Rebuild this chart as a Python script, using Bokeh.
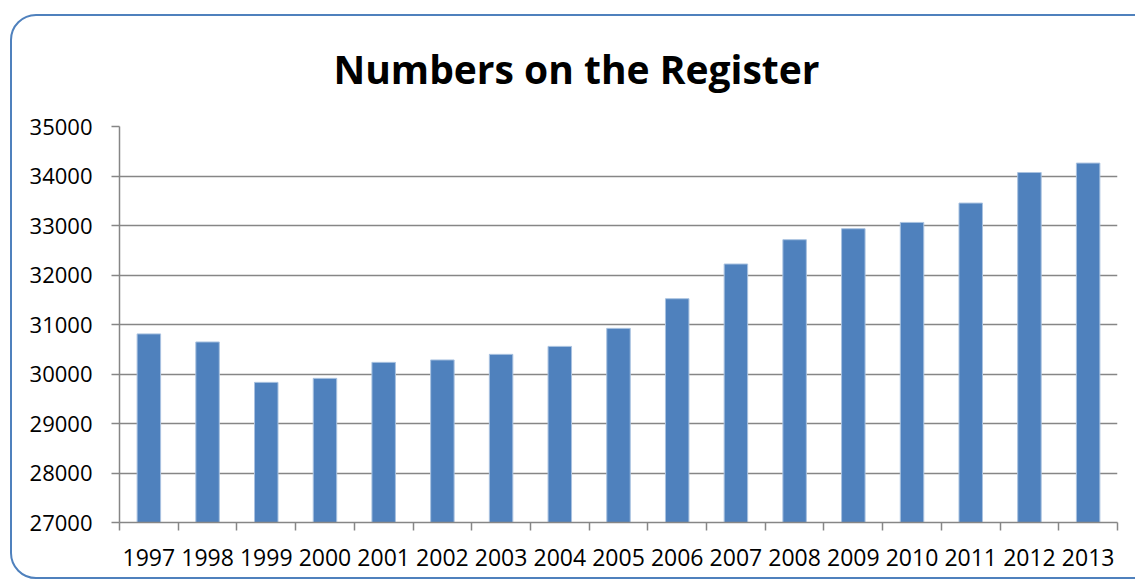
from bokeh.plotting import figure
from bokeh.models import FixedTicker, ColumnDataSource, Range1d, InlineStyleSheet
from bokeh.embed import file_html
from bokeh.resources import INLINE

years = [1997, 1998, 1999, 2000, 2001, 2002, 2003, 2004, 2005,
         2006, 2007, 2008, 2009, 2010, 2011, 2012, 2013]
registered = [30810, 30647, 29831, 29912, 30235, 30284, 30397, 30558, 30922,
              31521, 32222, 32713, 32935, 33062, 33453, 34071, 34261]
y_ticks = [27000, 28000, 29000, 30000, 31000, 32000, 33000, 34000, 35000]

xs = list(range(len(years)))
src = ColumnDataSource(dict(x=xs, top=registered))

FONT = "Open Sans"
GRID = "#868686"
BLUE = "#4F81BD"

p = figure(width=1135, height=580, output_backend="svg", toolbar_location=None,
           x_range=Range1d(-0.5, len(years) - 0.5),
           y_range=Range1d(y_ticks[0], y_ticks[-1]),
           min_border_left=119, min_border_right=18,
           min_border_top=126, min_border_bottom=58)
p.outline_line_color = None
p.background_fill_color = "white"
p.border_fill_color = "white"

p.title.text = "Numbers on the Register"
p.title.text_font = FONT
p.title.text_font_size = "39px"
p.title.text_font_style = "bold"
p.title.text_color = "black"
p.title.align = "left"
p.title.offset = 214
p.title.standoff = 64

p.vbar(x="x", top="top", bottom=y_ticks[0], width=0.4, source=src,
       fill_color=BLUE, line_color="#a9c2e0", line_width=1)

# y axis
p.yaxis.ticker = FixedTicker(ticks=y_ticks)
p.yaxis.axis_line_color = GRID
p.yaxis.axis_line_width = 1.5
p.yaxis.major_tick_line_color = GRID
p.yaxis.major_tick_line_width = 1.5
p.yaxis.major_tick_out = 8
p.yaxis.major_tick_in = 0
p.yaxis.minor_tick_line_color = None
p.yaxis.major_label_standoff = 19
p.yaxis.major_label_text_font = FONT
p.yaxis.major_label_text_font_size = "22px"
p.yaxis.major_label_text_color = "black"

# x axis: labels at centres, ticks at category boundaries
p.xaxis.ticker = FixedTicker(ticks=xs, minor_ticks=[i - 0.5 for i in range(len(years) + 1)])
p.xaxis.major_label_overrides = {i: str(y) for i, y in zip(xs, years)}
p.xaxis.axis_line_color = GRID
p.xaxis.axis_line_width = 1.5
p.xaxis.major_tick_out = 0
p.xaxis.major_tick_in = 0
p.xaxis.minor_tick_line_color = GRID
p.xaxis.minor_tick_line_width = 1.5
p.xaxis.minor_tick_out = 8
p.xaxis.minor_tick_in = 0
p.xaxis.major_label_standoff = 18
p.xaxis.major_label_text_font = FONT
p.xaxis.major_label_text_font_size = "23px"
p.xaxis.major_label_text_color = "black"

p.xgrid.grid_line_color = None
p.ygrid.grid_line_color = GRID
p.ygrid.grid_line_width = 1.5

p.stylesheets = [InlineStyleSheet(css="""
:host { position: relative; overflow: hidden; }
:host::after {
  content: "";
  position: absolute;
  left: 10px; top: 14px;
  width: 1160px; height: 565px;
  border: 2.2px solid #4F81BD;
  border-radius: 26px;
  box-sizing: border-box;
  pointer-events: none;
}
""")]

open("out.html", "w").write(file_html(p, INLINE))
